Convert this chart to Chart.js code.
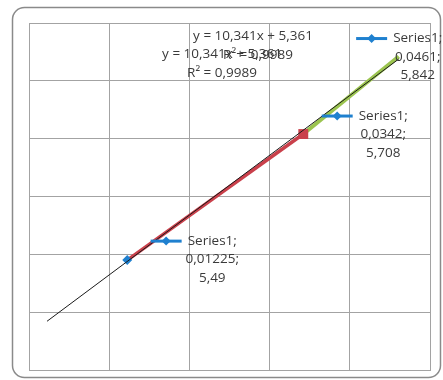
<!DOCTYPE html>
<html>
<head>
<meta charset="utf-8">
<script src="https://cdn.jsdelivr.net/npm/chart.js@4/dist/chart.umd.min.js"></script>
<style>
  html, body { margin: 0; padding: 0; background: #ffffff; }
  #wrap { width: 443px; height: 380px; position: relative; }
</style>
</head>
<body>
<div id="wrap"><canvas id="c" width="443" height="380"></canvas></div>
<script>
// measured points of Series1
const xValues = [0.01225, 0.0342, 0.0461];
const yValues = [5.49, 5.708, 5.842];
const seriesName = 'Series1';

// linear trendline as printed on the chart
const trendSlope = 10.341;
const trendIntercept = 5.361;
const trendR2 = 0.9989;
const trendFrom = 0.00225;   // backward forecast start
const trendTo = 0.0461;

// axis ranges
const xAxis = { min: 0, max: 0.05, step: 0.01 };
const yAxis = { min: 5.3, max: 5.9, step: 0.1 };

const FONT = '"Open Sans", "Liberation Sans", sans-serif';
const TEXT = '#3a3a3a';
const BLUE = '#1f80cf';
const RED = '#c9404b';
const GREEN = '#9bc44f';

const comma = v => String(v).replace('.', ',');
const eqText = 'y = ' + comma(trendSlope) + 'x + ' + comma(trendIntercept);
const r2Text = 'R\u00B2 = ' + comma(trendR2);

const pts = xValues.map((x, i) => ({ x, y: yValues[i] }));
const trendPts = [trendFrom, trendTo].map(x => ({ x, y: trendSlope * x + trendIntercept }));

// label placement relative to each point (dx to text centre, dy to first line)
const labelStyle = [
  { dx: 85, dy: -19 },
  { dx: 80, dy: -18 },
  { dx: 19, dy: -18 }
];

const frame = {
  id: 'frame',
  beforeDraw(chart) {
    const ctx = chart.ctx;
    ctx.save();
    ctx.fillStyle = '#ffffff';
    ctx.fillRect(0, 0, chart.width, chart.height);
    ctx.strokeStyle = '#8a8a8a';
    ctx.lineWidth = 1.5;
    ctx.beginPath();
    ctx.roundRect(12.5, 7.5, 428, 370, 12);
    ctx.stroke();
    ctx.restore();
  }
};

function drawKey(ctx, x1, x2, y) {
  ctx.strokeStyle = BLUE;
  ctx.lineWidth = 3;
  ctx.beginPath();
  ctx.moveTo(x1, y);
  ctx.lineTo(x2, y);
  ctx.stroke();
  const m = (x1 + x2) / 2, r = 4.5;
  ctx.fillStyle = BLUE;
  ctx.beginPath();
  ctx.moveTo(m, y - r); ctx.lineTo(m + r, y); ctx.lineTo(m, y + r); ctx.lineTo(m - r, y);
  ctx.closePath();
  ctx.fill();
}

const labels = {
  id: 'labels',
  afterDatasetsDraw(chart) {
    const ctx = chart.ctx;
    const xs = chart.scales.x, ys = chart.scales.y;
    ctx.save();
    ctx.font = '13.5px ' + FONT;
    ctx.textBaseline = 'middle';
    ctx.textAlign = 'center';
    ctx.fillStyle = TEXT;
    const lh = 18.5;
    pts.forEach((p, i) => {
      const px = xs.getPixelForValue(p.x), py = ys.getPixelForValue(p.y);
      const cx = px + labelStyle[i].dx, cy = py + labelStyle[i].dy;
      const lines = [seriesName + ';', comma(p.x) + ';', comma(p.y)];
      const w0 = ctx.measureText(lines[0]).width;
      drawKey(ctx, cx - w0 / 2 - 37, cx - w0 / 2 - 6, cy);
      ctx.fillStyle = TEXT;
      lines.forEach((t, k) => ctx.fillText(t, cx, cy + k * lh));
    });
    // two overlapping trendline captions
    const a = chart.chartArea;
    ctx.fillText(eqText, a.left + 224, a.top + 13);
    ctx.fillText(r2Text, a.left + 229, a.top + 32);
    ctx.fillText(eqText, a.left + 193, a.top + 31);
    ctx.fillText(r2Text, a.left + 193, a.top + 50);
    ctx.restore();
  }
};

new Chart(document.getElementById('c'), {
  type: 'scatter',
  data: {
    datasets: [
      { label: 'trend', data: trendPts, showLine: true, borderColor: '#1a1a1a', borderWidth: 1,
        pointRadius: 0, order: 0 },
      { label: 'markers', data: pts.slice(0, 2), showLine: false,
        pointStyle: ['rectRot', 'rect'], pointRadius: [5, 7],
        pointBackgroundColor: [BLUE, RED], pointBorderColor: [BLUE, RED], pointBorderWidth: 0, order: 1 },
      { label: 'segA', data: pts.slice(0, 2), showLine: true, borderColor: RED, borderWidth: 3.5,
        pointRadius: 0, order: 2 },
      { label: 'segB', data: pts.slice(1, 3), showLine: true, borderColor: GREEN, borderWidth: 4,
        pointRadius: 0, order: 3 }
    ]
  },
  options: {
    responsive: false,
    animation: false,
    events: [],
    layout: { padding: { left: 29, right: 13, top: 23, bottom: 10 } },
    plugins: { legend: { display: false }, tooltip: { enabled: false } },
    scales: {
      x: {
        type: 'linear', min: xAxis.min, max: xAxis.max,
        ticks: { stepSize: xAxis.step, display: false },
        grid: { color: '#a3a3a3', lineWidth: 1, drawTicks: false },
        border: { color: '#a3a3a3' }
      },
      y: {
        type: 'linear', min: yAxis.min, max: yAxis.max,
        ticks: { stepSize: yAxis.step, display: false },
        grid: { color: '#a3a3a3', lineWidth: 1, drawTicks: false },
        border: { color: '#a3a3a3' }
      }
    }
  },
  plugins: [frame, labels]
});
</script>
</body>
</html>
